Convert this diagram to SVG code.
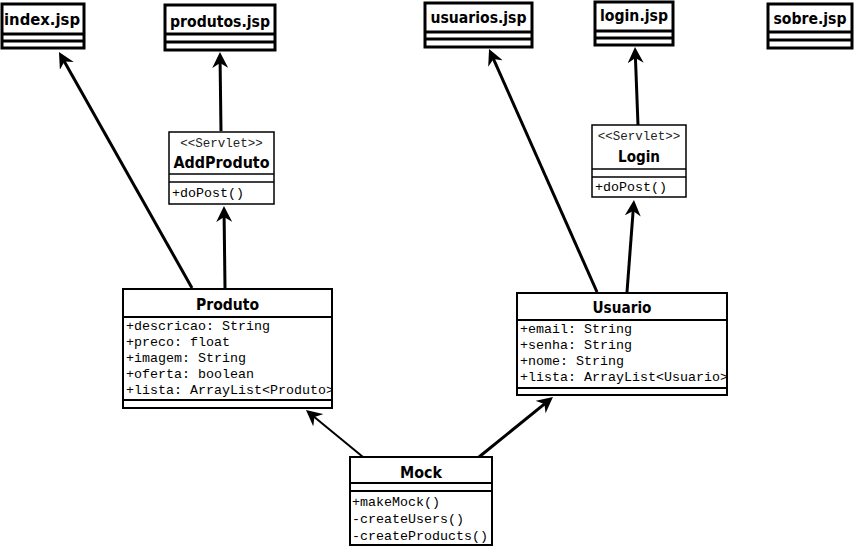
<svg xmlns="http://www.w3.org/2000/svg" width="854" height="546" viewBox="0 0 854 546">
<defs>
<style>
.jsp{fill:#fff;stroke:#000;stroke-width:3}
.jl{stroke:#000;stroke-width:3}
.cls{fill:#fff;stroke:#000;stroke-width:2}
.cl{stroke:#000;stroke-width:2}
.srv{fill:#fff;stroke:#000;stroke-width:1.5}
.sl{stroke:#000;stroke-width:1.5}
.t{font-family:"DejaVu Sans Condensed","DejaVu Sans",Verdana,sans-serif;font-stretch:condensed;font-weight:bold;font-size:16px;fill:#000;text-anchor:middle}
.m{font-family:"Liberation Mono","Courier New",monospace;font-size:13.33px;fill:#000}
.st{font-family:"Liberation Mono","Courier New",monospace;font-size:12.5px;fill:#222;text-anchor:middle}
.c{fill:none;stroke:#000;stroke-width:3}
.c2{fill:none;stroke:#000;stroke-width:2}
</style>
<marker id="arr" viewBox="0 0 16 16" refX="6" refY="8" markerWidth="16" markerHeight="16" markerUnits="userSpaceOnUse" orient="auto">
<path d="M0,0 L16,8 L0,16 L5,8 z" fill="#000"/>
</marker>
<clipPath id="clipP"><rect x="124" y="318" width="207" height="82"/></clipPath>
<clipPath id="clipU"><rect x="518" y="321" width="208" height="67"/></clipPath>
</defs>

<g id="connectors">
<line class="c" x1="192" y1="288" x2="63.9" y2="60.7" marker-end="url(#arr)"/>
<line class="c" x1="225" y1="288" x2="224.1" y2="216" marker-end="url(#arr)"/>
<line class="c" x1="221" y1="131" x2="220.1" y2="62" marker-end="url(#arr)"/>
<line class="c" x1="597" y1="292" x2="493.1" y2="58.1" marker-end="url(#arr)"/>
<line class="c" x1="627" y1="292" x2="633.2" y2="210" marker-end="url(#arr)"/>
<line class="c" x1="638" y1="125" x2="635.4" y2="57" marker-end="url(#arr)"/>
<line class="c2" x1="363" y1="457" x2="313.7" y2="416.4" marker-end="url(#arr)"/>
<line class="c" x1="479" y1="457" x2="545.2" y2="403.3" marker-end="url(#arr)"/>
</g>

<g id="index-jsp">
<rect class="jsp" x="2" y="4" width="82" height="44"/>
<line class="jl" x1="2" y1="34" x2="84" y2="34"/>
<line class="jl" x1="2" y1="41" x2="84" y2="41"/>
<text class="t" x="42" y="25" textLength="76" lengthAdjust="spacingAndGlyphs">index.jsp</text>
</g>

<g id="produtos-jsp">
<rect class="jsp" x="165" y="5" width="110" height="45"/>
<line class="jl" x1="165" y1="34" x2="275" y2="34"/>
<line class="jl" x1="165" y1="42" x2="275" y2="42"/>
<text class="t" x="220" y="27" textLength="100" lengthAdjust="spacingAndGlyphs">produtos.jsp</text>
</g>

<g id="usuarios-jsp">
<rect class="jsp" x="425" y="3" width="107" height="44"/>
<line class="jl" x1="425" y1="32" x2="532" y2="32"/>
<line class="jl" x1="425" y1="39" x2="532" y2="39"/>
<text class="t" x="478.5" y="23" textLength="96" lengthAdjust="spacingAndGlyphs">usuarios.jsp</text>
</g>

<g id="login-jsp">
<rect class="jsp" x="595" y="2" width="78" height="43"/>
<line class="jl" x1="595" y1="31" x2="673" y2="31"/>
<line class="jl" x1="595" y1="38" x2="673" y2="38"/>
<text class="t" x="634" y="21" textLength="68" lengthAdjust="spacingAndGlyphs">login.jsp</text>
</g>

<g id="sobre-jsp">
<rect class="jsp" x="768" y="4" width="84" height="44"/>
<line class="jl" x1="768" y1="32" x2="852" y2="32"/>
<line class="jl" x1="768" y1="40" x2="852" y2="40"/>
<text class="t" x="810" y="24" textLength="73" lengthAdjust="spacingAndGlyphs">sobre.jsp</text>
</g>

<g id="AddProduto">
<rect class="srv" x="169" y="132" width="105" height="72"/>
<line class="sl" x1="169" y1="174" x2="274" y2="174"/>
<line class="sl" x1="169" y1="182" x2="274" y2="182"/>
<text class="st" x="221.5" y="147">&lt;&lt;Servlet&gt;&gt;</text>
<text class="t" x="221.5" y="168" textLength="96" lengthAdjust="spacingAndGlyphs">AddProduto</text>
<text class="m" x="172" y="197">+doPost()</text>
</g>

<g id="Login">
<rect class="srv" x="592" y="125" width="94" height="72"/>
<line class="sl" x1="592" y1="169" x2="686" y2="169"/>
<line class="sl" x1="592" y1="177" x2="686" y2="177"/>
<text class="st" x="639" y="140">&lt;&lt;Servlet&gt;&gt;</text>
<text class="t" x="639" y="162" textLength="42" lengthAdjust="spacingAndGlyphs">Login</text>
<text class="m" x="595" y="191">+doPost()</text>
</g>

<g id="Produto">
<rect class="cls" x="123" y="289" width="209" height="119"/>
<line class="cl" x1="123" y1="317" x2="332" y2="317"/>
<line class="cl" x1="123" y1="400" x2="332" y2="400"/>
<text class="t" x="227.5" y="310" textLength="63" lengthAdjust="spacingAndGlyphs">Produto</text>
<g clip-path="url(#clipP)">
<text class="m" x="126" y="330">+descricao: String</text>
<text class="m" x="126" y="346">+preco: float</text>
<text class="m" x="126" y="362">+imagem: String</text>
<text class="m" x="126" y="378">+oferta: boolean</text>
<text class="m" x="126" y="394">+lista: ArrayList&lt;Produto&gt;</text>
</g>
</g>

<g id="Usuario">
<rect class="cls" x="517" y="293" width="210" height="102"/>
<line class="cl" x1="517" y1="320" x2="727" y2="320"/>
<line class="cl" x1="517" y1="388" x2="727" y2="388"/>
<text class="t" x="622" y="313" textLength="59" lengthAdjust="spacingAndGlyphs">Usuario</text>
<g clip-path="url(#clipU)">
<text class="m" x="520" y="333">+email: String</text>
<text class="m" x="520" y="349">+senha: String</text>
<text class="m" x="520" y="365">+nome: String</text>
<text class="m" x="520" y="381">+lista: ArrayList&lt;Usuario&gt;</text>
</g>
</g>

<g id="Mock">
<rect class="cls" x="350" y="457" width="142" height="88"/>
<line class="cl" x1="350" y1="483" x2="492" y2="483"/>
<line class="cl" x1="350" y1="491" x2="492" y2="491"/>
<text class="t" x="421" y="478" textLength="42" lengthAdjust="spacingAndGlyphs">Mock</text>
<text class="m" x="352" y="506">+makeMock()</text>
<text class="m" x="352" y="523">-createUsers()</text>
<text class="m" x="352" y="540">-createProducts()</text>
</g>
</svg>
